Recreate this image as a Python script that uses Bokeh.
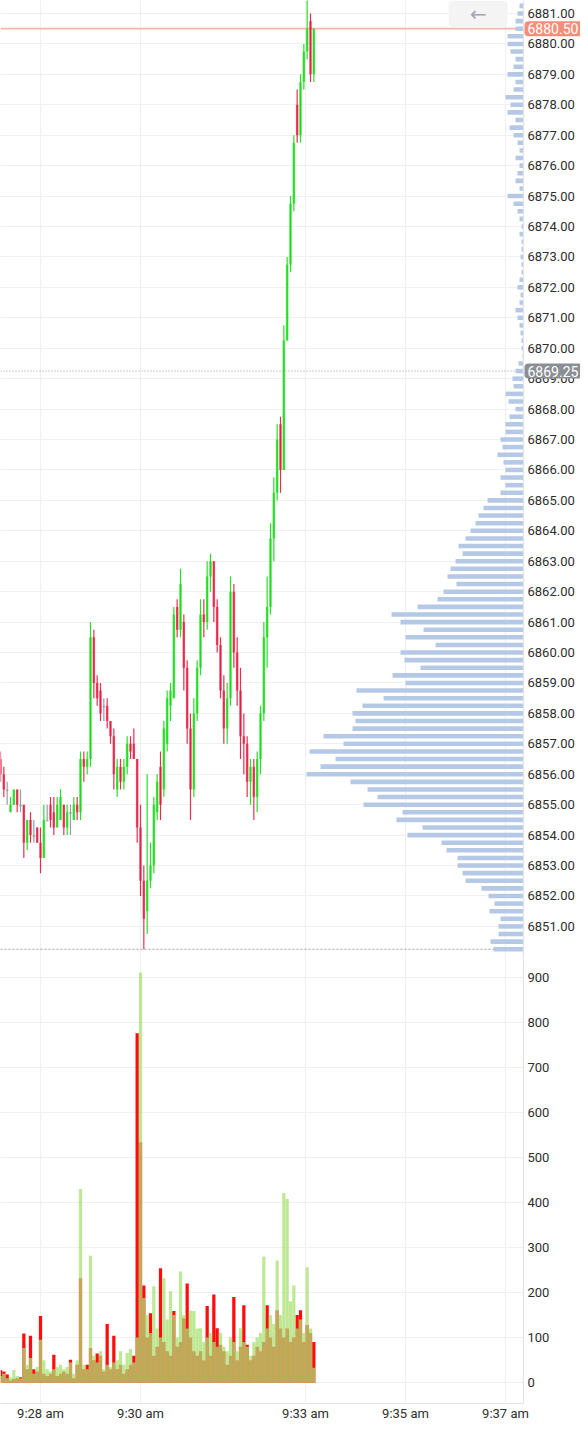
import numpy as np
from bokeh.plotting import figure
from bokeh.layouts import column
from bokeh.models import (Range1d, FixedTicker, PrintfTickFormatter, Span, Label,
                          BoxAnnotation, ColumnDataSource)
from bokeh.embed import file_html
from bokeh.resources import INLINE

# ---------------- data ----------------
# candle times: seconds after 9:27:00
times = list(range(12, 392, 4))

opens = [6856.50, 6856.00, 6855.50, 6854.75, 6855.00, 6855.50, 6855.00, 6855.00, 6853.75, 6854.50,
         6854.00, 6854.25, 6853.75, 6853.25, 6854.50, 6855.00, 6854.75, 6854.25, 6854.50, 6855.00,
         6854.25, 6854.75, 6854.50, 6855.00, 6854.75, 6856.50, 6856.25, 6856.50, 6860.50, 6859.00,
         6858.75, 6858.25, 6858.25, 6857.75, 6857.25, 6855.50, 6856.25, 6855.75, 6856.25, 6857.00,
         6857.00, 6856.50, 6854.25, 6852.50, 6851.50, 6852.50, 6853.00, 6854.75, 6856.25, 6855.50,
         6857.00, 6858.25, 6858.50, 6861.50, 6860.75, 6861.00, 6859.50, 6857.50, 6855.50, 6858.00,
         6859.50, 6861.25, 6861.00, 6862.50, 6863.00, 6861.50, 6860.25, 6858.75, 6857.50, 6858.50,
         6862.00, 6860.00, 6858.75, 6857.25, 6857.00, 6855.75, 6856.25, 6855.25, 6856.50, 6858.00,
         6860.50, 6861.50, 6863.75, 6865.25, 6867.50, 6866.00, 6870.25, 6872.75, 6874.75, 6878.00,
         6877.00, 6878.75, 6879.75, 6880.75, 6879.00]
highs = [6856.75, 6856.25, 6855.75, 6855.25, 6855.50, 6855.50, 6855.50, 6855.00, 6854.50, 6854.75,
         6854.50, 6854.25, 6854.25, 6855.00, 6855.00, 6855.25, 6855.25, 6855.25, 6855.50, 6855.00,
         6855.00, 6855.00, 6855.25, 6855.25, 6856.75, 6856.75, 6856.75, 6861.00, 6860.75, 6859.25,
         6859.00, 6858.50, 6858.50, 6857.75, 6857.50, 6856.50, 6856.50, 6856.50, 6857.25, 6857.25,
         6857.50, 6856.50, 6855.00, 6853.00, 6856.00, 6853.75, 6855.25, 6856.00, 6856.75, 6857.75,
         6858.75, 6859.00, 6861.50, 6861.75, 6862.75, 6861.25, 6859.75, 6858.00, 6858.50, 6859.75,
         6861.75, 6861.75, 6863.00, 6863.25, 6863.00, 6861.75, 6860.50, 6859.25, 6859.00, 6862.50,
         6862.25, 6860.50, 6859.50, 6858.00, 6857.25, 6856.50, 6856.50, 6856.75, 6858.25, 6861.00,
         6862.50, 6864.25, 6865.75, 6867.50, 6867.75, 6870.75, 6873.00, 6875.00, 6877.00, 6878.50,
         6879.00, 6880.00, 6881.50, 6881.00, 6880.50]
lows = [6855.75, 6855.25, 6855.00, 6854.75, 6855.00, 6854.75, 6854.75, 6853.25, 6853.50, 6853.75,
        6853.75, 6853.75, 6852.75, 6853.25, 6854.50, 6854.25, 6854.00, 6854.25, 6854.50, 6854.00,
        6854.00, 6854.00, 6854.50, 6854.50, 6854.50, 6855.75, 6856.00, 6856.25, 6858.50, 6858.25,
        6857.75, 6857.75, 6857.50, 6857.00, 6855.50, 6855.25, 6855.50, 6855.50, 6856.00, 6856.50,
        6856.50, 6853.75, 6852.00, 6850.25, 6850.75, 6852.25, 6852.75, 6854.50, 6854.50, 6855.25,
        6856.75, 6857.75, 6858.50, 6860.50, 6860.50, 6858.75, 6857.00, 6854.50, 6855.25, 6857.75,
        6859.25, 6860.50, 6860.75, 6862.00, 6861.00, 6860.00, 6858.50, 6857.00, 6857.00, 6858.25,
        6859.50, 6858.25, 6856.50, 6856.00, 6855.25, 6855.00, 6854.50, 6854.75, 6856.00, 6857.75,
        6859.50, 6861.25, 6863.00, 6865.00, 6865.25, 6866.00, 6870.25, 6872.50, 6874.50, 6876.75,
        6876.75, 6878.50, 6879.50, 6878.75, 6878.75]
closes = [6856.00, 6855.50, 6855.50, 6855.00, 6855.50, 6855.00, 6855.00, 6853.75, 6854.50, 6854.00,
          6854.00, 6853.75, 6853.25, 6854.50, 6854.50, 6854.50, 6854.25, 6855.00, 6855.25, 6854.25,
          6854.75, 6854.75, 6855.00, 6854.75, 6856.50, 6856.25, 6856.50, 6860.50, 6859.00, 6858.50,
          6858.00, 6858.25, 6857.75, 6857.25, 6856.00, 6856.25, 6855.75, 6856.25, 6857.00, 6856.75,
          6856.50, 6854.25, 6852.50, 6851.25, 6852.50, 6853.00, 6855.00, 6855.75, 6855.00, 6857.50,
          6858.50, 6858.75, 6861.25, 6860.75, 6862.25, 6859.50, 6857.50, 6855.50, 6858.00, 6859.50,
          6861.25, 6861.00, 6862.50, 6863.00, 6861.50, 6860.25, 6858.75, 6857.50, 6858.50, 6862.00,
          6860.00, 6858.75, 6857.25, 6857.00, 6855.75, 6856.25, 6855.25, 6856.50, 6858.00, 6860.50,
          6861.50, 6863.75, 6865.25, 6867.00, 6866.00, 6870.25, 6872.75, 6874.75, 6876.75, 6877.00,
          6878.75, 6879.75, 6880.50, 6879.00, 6880.50]

buy_volume = [15, 20, 10, 12, 28, 15, 10, 77, 40, 55,
              20, 35, 95, 50, 30, 25, 30, 35, 40, 30,
              35, 45, 20, 50, 430, 40, 30, 282, 60, 45,
              70, 30, 40, 35, 45, 50, 70, 40, 66, 75,
              45, 100, 910, 188, 150, 110, 214, 120, 100, 232,
              140, 203, 150, 100, 247, 150, 120, 160, 159, 120,
              121, 90, 100, 110, 90, 80, 110, 80, 70, 100,
              90, 70, 121, 90, 80, 60, 90, 100, 110, 280,
              120, 150, 130, 271, 150, 421, 408, 180, 216, 120,
              140, 110, 256, 120, 33]
sell_volume = [28, 25, 18, 5, 8, 10, 12, 109, 30, 104,
               30, 25, 148, 20, 15, 20, 62, 15, 20, 25,
               20, 51, 10, 40, 232, 30, 40, 77, 50, 65,
               60, 25, 130, 30, 104, 30, 40, 20, 30, 40,
               60, 776, 534, 216, 100, 154, 60, 80, 254, 90,
               70, 60, 159, 80, 90, 143, 220, 100, 70, 60,
               70, 50, 170, 60, 196, 121, 84, 70, 40, 60,
               190, 50, 80, 172, 84, 50, 60, 80, 70, 90,
               172, 100, 80, 161, 120, 100, 120, 90, 100, 150,
               161, 90, 128, 110, 90]

# volume profile: price levels from 6850.25 up to 6881.25 in 0.25 steps
profile_levels = [round(6850.25 + 0.25 * k, 2) for k in range(125)]
profile_volume = [30, 33, 25, 25,  23, 34, 29, 35,  42, 58, 61, 66,  66, 77, 82, 116,
                  101, 127, 121, 160,  146, 156, 173, 217,  203, 188, 214, 180,
                  200, 171, 168, 171,  161, 140, 167, 118,  131, 103, 119, 123,
                  88, 118, 100, 123,  132, 106, 86, 80,  67, 76, 73, 68,
                  61, 65, 58, 53,  48, 45, 40, 36,  23, 18, 23, 18,
                  20, 26, 21, 23,  18, 18, 14, 8,  15, 18, 10, 11,
                  8, 5, 1, 2,  2, 3, 4, 6,  8, 4, 3, 6,  4, 2, 2, 3,
                  2, 2, 4, 2,  4, 6, 10, 16,  4, 8, 6, 4,  8, 4, 6, 10,
                  14, 8, 16, 13,  18, 10, 8, 16,  10, 8, 13, 16,  16, 8, 8, 6,  4]

price_ticks = list(range(6851, 6882))
volume_ticks = [0, 100, 200, 300, 400, 500, 600, 700, 800, 900]
time_ticks = [60, 180, 378, 498, 618]
time_labels = ["9:28 am", "9:30 am", "9:33 am", "9:35 am", "9:37 am"]
last_price = 6880.50
marker_price = 6869.25
session_low = 6850.25

# ---------------- styling ----------------
FONT = "Roboto"
TXT = "#2e2e2e"
GRID = "#f0f0f0"
AXIS = "#e3e3e3"
UP, DOWN, FLAT = "#12dc12", "#e6173d", "#8d929b"

X0, XAXIS, X1 = 12.0, 639.6, 708.0      # left edge, price-axis line, right edge (seconds)
x_rng = Range1d(X0, X1)


def style_axes(p):
    for ax in p.axis:
        ax.major_label_text_font = FONT
        ax.major_label_text_font_size = "13px"
        ax.major_label_text_color = TXT
        ax.axis_line_color = AXIS
        ax.axis_line_width = 1.2
        ax.major_tick_line_color = None
        ax.minor_tick_line_color = None
        ax.major_tick_out = 0
        ax.major_tick_in = 0


def mask_label_area(p, top, bottom):
    # white strip under the axis labels (hides grid lines there)
    p.add_layout(BoxAnnotation(left=XAXIS, right=X1, top=top, bottom=bottom,
                               fill_color="white", fill_alpha=1, line_color=None,
                               level="underlay"))


# ---------------- price panel ----------------
P_LO, P_HI = 6849.945, 6881.427
p1 = figure(width=580, height=958, x_range=x_rng, y_range=Range1d(P_LO, P_HI),
            x_axis_location=None, y_axis_location="right", toolbar_location=None,
            output_backend="svg", min_border_left=0, min_border_right=0,
            min_border_top=0, min_border_bottom=0)
p1.outline_line_color = None
for g in p1.grid:
    if g.dimension == 0:
        g.ticker = FixedTicker(ticks=time_ticks)
    g.grid_line_color = GRID
    g.grid_line_width = 1.2
p1.yaxis.ticker = FixedTicker(ticks=price_ticks)
p1.yaxis.formatter = PrintfTickFormatter(format="%.2f")
p1.yaxis.fixed_location = XAXIS
p1.yaxis.major_label_standoff = 4
style_axes(p1)

p1.add_layout(Span(location=session_low, dimension="width", line_color="#9a9a9a",
                   line_width=1, line_dash="2 2", level="underlay"))
p1.add_layout(Span(location=marker_price, dimension="width", line_color="#9a9a9a",
                   line_width=1, line_dash="1 2", level="underlay"))
p1.add_layout(Span(location=last_price, dimension="width", line_color="#f8b4a4",
                   line_width=1.8, level="underlay"))
mask_label_area(p1, P_HI, P_LO)

# volume profile on its own horizontal range (grows leftwards from the price axis)
p1.extra_x_ranges = {"profile": Range1d(523, -57)}
p1.hbar(y=profile_levels, left=0, right=profile_volume, height=0.15,
        x_range_name="profile", fill_color="#b5c9e6", line_color=None)

colors = [UP if c > o else (DOWN if c < o else FLAT) for o, c in zip(opens, closes)]
tops = [max(o, c) for o, c in zip(opens, closes)]
bots = [min(o, c) if o != c else o - 0.05 for o, c in zip(opens, closes)]
src = ColumnDataSource(dict(t=times, h=highs, l=lows, top=tops, bottom=bots, color=colors))
p1.segment(x0="t", y0="h", x1="t", y1="l", line_color="color", line_width=1.2,
           line_alpha=0.9, source=src)
p1.vbar(x="t", top="top", bottom="bottom", width=3.0, fill_color="color",
        fill_alpha=0.7, line_color=None, source=src)

# back button
p1.add_layout(BoxAnnotation(left=549.6, right=620.4, top=P_HI, bottom=6880.54,
                            fill_color="#f4f4f5", fill_alpha=1, line_color=None, border_radius=5))
p1.add_layout(Label(x=585.6, y=6880.967, text="←", text_align="center", text_baseline="middle",
                    text_font="DejaVu Sans", text_font_size="20px", text_color="#a2a6b2"))

# price tags on the axis
for price, bg in ((last_price, "#f58e78"), (marker_price, "#8a8f95")):
    p1.add_layout(Label(x=XAXIS, y=price, x_offset=1, text=f"{price:.2f}",
                        text_align="left", text_baseline="middle", text_font=FONT,
                        text_font_size="14px", text_color="white",
                        background_fill_color=bg, background_fill_alpha=1,
                        border_radius=4, padding=dict(left=3, right=6, top=2, bottom=2)))

# ---------------- volume panel ----------------
V_LO, V_HI = -46.3, 941.9
p2 = figure(width=580, height=465, x_range=x_rng, y_range=Range1d(V_LO, V_HI),
            y_axis_location="right", toolbar_location=None, output_backend="svg",
            min_border_left=0, min_border_right=0, min_border_top=0, min_border_bottom=17)
p2.outline_line_color = None
p2.xgrid.ticker = FixedTicker(ticks=time_ticks)
p2.xaxis.ticker = FixedTicker(ticks=time_ticks)
p2.xaxis.bounds = (X0, XAXIS)
p2.xaxis.major_label_overrides = {t: l for t, l in zip(time_ticks, time_labels)}
p2.xaxis.major_label_standoff = 2
p2.yaxis.ticker = FixedTicker(ticks=volume_ticks)
p2.yaxis.fixed_location = XAXIS
p2.yaxis.major_label_standoff = 4
for g in p2.grid:
    g.grid_line_color = GRID
    g.grid_line_width = 1.2
style_axes(p2)
mask_label_area(p2, V_HI, V_LO)

p2.vbar(x=times, top=sell_volume, width=3.9, fill_color="#ff0d0d", line_color=None)
p2.vbar(x=times, top=buy_volume, width=3.9, fill_color="#a8e070", fill_alpha=0.75,
        line_color=None)

layout = column(p1, p2, spacing=0)
open("out.html", "w").write(file_html(layout, INLINE))
